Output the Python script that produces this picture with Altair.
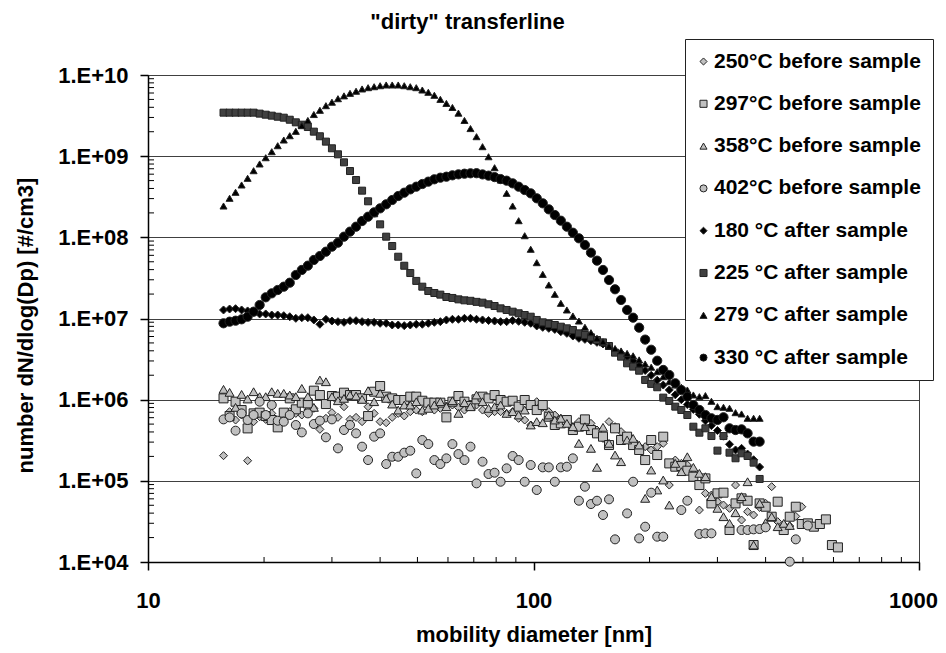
import altair as alt
import pandas as pd

FONT = "Liberation Sans, Arial, Helvetica, sans-serif"

DIAMETERS = [15.70, 16.28, 16.87, 17.49, 18.13, 18.79, 19.48, 20.20, 20.94, 21.70,
             22.50, 23.32, 24.18, 25.06, 25.98, 26.93, 27.92, 28.94, 30.00, 31.10,
             32.24, 33.42, 34.65, 35.92, 37.23, 38.60, 40.01, 41.48, 43.00, 44.57,
             46.21, 47.90, 49.65, 51.47, 53.35, 55.31, 57.33, 59.43, 61.61, 63.87,
             66.21, 68.63, 71.15, 73.75, 76.45, 79.26, 82.16, 85.17, 88.29, 91.52,
             94.88, 98.35, 101.96, 105.69, 109.56, 113.58, 117.74, 122.05, 126.52, 131.16,
             135.96, 140.94, 146.11, 151.46, 157.00, 162.75, 168.72, 174.90, 181.31, 187.95,
             194.84, 201.98, 209.38, 217.05, 225.00, 233.24, 241.79, 250.65, 259.83, 269.35,
             279.22, 289.45, 300.05, 311.05, 322.44, 334.26, 346.50, 359.20, 372.36, 386.00,
             400.14, 414.80, 430.00, 445.75, 462.08, 479.01, 496.56, 514.75, 533.61, 553.16,
             573.43, 594.44, 616.21]

SERIES = ["250°C before sample", "297°C before sample", "358°C before sample",
          "402°C before sample", "180 °C after sample", "225 °C after sample",
          "279 °C after sample", "330 °C after sample"]

# values given as decade exponents (log10 of dN/dlogDp)
LOG_250_BEFORE = [5.310, 5.852, 5.749, 5.811, 5.248, 5.729, 5.790, 5.757, 5.831, 5.667,
                  5.782, 5.852, 5.831, 5.811, 5.872, 5.893, 5.634, 5.770, 5.840, 5.782,
                  5.913, 5.757, 5.782, 5.729, 5.913, 5.831, 5.729, 5.716, 5.782, 5.831,
                  5.799, 5.852, 5.872, 5.852, 5.934, 5.872, 5.893, 5.922, 5.934, 5.905,
                  5.872, 5.922, 5.934, 5.872, 5.831, 5.852, 5.852, 5.831, 5.852, 5.770,
                  5.749, 5.688, 5.975, 5.905, 5.852, 5.811, 5.770, 5.729, 5.667, 5.729,
                  5.688, 5.708, 5.626, 5.523, 5.729, 5.667, 5.606, 5.544, 5.482, 5.421,
                  5.421, 5.380, 5.421, 5.462, 4.948, 5.256, 5.215, 5.195, 5.092, 4.640,
                  4.846, 4.825, 4.743, 4.702, 4.661, 4.948, 4.517, 4.620, 4.579, 4.673,
                  4.722, 4.928, 4.497, 4.456, 4.443, 4.562, 4.681]

LOG_297_BEFORE = [6.016, 5.798, 5.975, 5.872, 5.646, 5.831, 5.840, 5.798, 5.749, 5.659,
                  5.840, 6.016, 5.881, 5.963, 5.954, 6.111, 6.057, 5.946, 6.045, 6.037,
                  6.086, 6.057, 6.057, 6.016, 5.798, 6.098, 6.168, 6.037, 6.016, 5.996,
                  5.996, 6.037, 6.037, 5.987, 5.963, 5.963, 5.963, 5.782, 5.975, 6.045,
                  5.975, 5.922, 6.004, 6.037, 6.016, 6.057, 5.996, 5.975, 5.987, 5.914,
                  5.996, 5.934, 5.872, 5.934, 5.790, 5.688, 5.708, 5.749, 5.626, 5.667,
                  5.757, 5.626, 5.585, 5.544, 5.441, 5.647, 5.503, 5.544, 5.441, 5.380,
                  5.256, 5.503, 5.318, 5.544, 5.215, 5.174, 5.182, 5.125, 5.051, 4.948,
                  5.030, 4.722, 4.846, 4.854, 4.394, 4.722, 4.784, 4.755, 4.209, 4.722,
                  4.681, 4.558, 4.743, 4.394, 4.558, 4.681, 4.468, 4.476, 4.435, 4.468,
                  4.525, 4.209, 4.180]

LOG_358_BEFORE = [6.127, 6.090, 5.905, 6.065, 6.008, 6.098, 6.037, 6.037, 6.098, 6.078,
                  6.078, 6.057, 6.037, 6.139, 6.037, 5.905, 6.242, 6.221, 6.037, 5.987,
                  6.016, 6.057, 6.045, 6.004, 6.111, 5.975, 6.078, 6.016, 5.946, 5.872,
                  5.934, 5.934, 5.975, 5.872, 5.893, 5.934, 5.975, 5.913, 5.987, 5.831,
                  5.963, 5.913, 6.057, 5.975, 5.893, 5.913, 5.934, 5.831, 5.852, 5.811,
                  5.872, 5.688, 5.729, 5.716, 5.811, 5.749, 5.770, 5.708, 5.667, 5.462,
                  5.667, 5.400, 5.166, 5.659, 5.462, 5.318, 5.236, 5.503, 5.523, 5.441,
                  4.784, 5.133, 4.887, 5.010, 4.702, 5.215, 5.113, 5.297, 5.166, 5.092,
                  5.051, 4.805, 4.661, 4.558, 4.476, 4.607, 4.805, 4.989, 4.209, 4.722,
                  4.484, 4.558, 4.435, 4.476, 4.450]

LOG_402_BEFORE = [5.757, 5.782, 5.618, 5.831, 5.749, 5.811, 5.975, 5.811, 5.934, 5.741,
                  5.729, 5.811, 5.688, 5.597, 5.831, 5.700, 5.741, 5.536, 5.757, 5.400,
                  5.626, 5.688, 5.585, 5.421, 5.256, 5.544, 5.585, 5.207, 5.297, 5.297,
                  5.347, 5.371, 5.092, 5.503, 5.453, 5.256, 5.207, 5.277, 5.453, 5.330,
                  5.256, 5.421, 4.969, 5.236, 5.084, 5.100, 4.989, 5.154, 5.306, 5.256,
                  4.989, 5.195, 4.887, 5.166, 5.166, 4.989, 5.166, 5.174, 5.277, 4.755,
                  4.928, 4.714, 4.755, 4.579, 4.772, 4.279, None, 4.599, 4.989, 4.291,
                  4.435, 4.854, 4.312, 4.312, None, None, 4.640, 4.755, None, 4.345,
                  4.353, 4.353, None, None, None, None, 4.394, 4.394, 4.402, 4.406,
                  4.427, None, None, None, 4.004, 4.279, None, 4.450]

LOG_180_AFTER = [7.105, 7.117, 7.121, 7.105, 7.093, 7.076, 7.056, 7.056, 7.043, 7.043,
                 7.035, 7.022, 7.002, 7.010, 7.010, 6.982, 6.929, 6.990, 6.969, 6.961,
                 6.953, 6.973, 6.973, 6.961, 6.953, 6.953, 6.941, 6.941, 6.920, 6.920,
                 6.912, 6.920, 6.929, 6.929, 6.941, 6.953, 6.961, 6.982, 6.990, 6.990,
                 7.002, 7.002, 6.990, 6.982, 6.975, 6.969, 6.961, 6.961, 6.975, 6.965,
                 6.953, 6.941, 6.908, 6.891, 6.879, 6.866, 6.838, 6.817, 6.784, 6.756,
                 6.743, 6.727, 6.706, 6.686, 6.661, 6.600, 6.570, 6.530, 6.480, 6.420,
                 6.360, 6.300, 6.240, 6.180, 6.120, 6.060, 6.000, 5.940, 5.880, 5.820,
                 5.740, 5.680, 5.620, 5.550, 5.450, 5.380, 5.400, 5.330, 5.260, 5.170]

LOG_225_AFTER = [9.536, 9.536, 9.536, 9.536, 9.536, 9.536, 9.524, 9.511, 9.499, 9.486,
                 9.474, 9.449, 9.417, 9.388, 9.359, 9.302, 9.245, 9.179, 9.097, 9.023,
                 8.924, 8.817, 8.706, 8.575, 8.444, 8.296, 8.160, 8.008, 7.893, 7.761,
                 7.650, 7.560, 7.463, 7.392, 7.339, 7.314, 7.294, 7.265, 7.253, 7.236,
                 7.224, 7.218, 7.205, 7.195, 7.175, 7.154, 7.125, 7.105, 7.084, 7.064,
                 7.043, 7.022, 6.982, 6.953, 6.932, 6.920, 6.899, 6.879, 6.858, 6.817,
                 6.797, 6.768, 6.735, 6.706, 6.661, 6.579, 6.530, 6.448, 6.407, 6.357,
                 6.243, 6.194, 6.153, 6.025, 5.984, 5.914, 5.873, 5.811, 5.667, 5.593,
                 5.647, 5.552, 5.372, 5.552, 5.347, 5.278, 5.339, 5.306, 5.224, 5.023]

LOG_279_AFTER = [8.386, 8.481, 8.555, 8.645, 8.727, 8.821, 8.904, 8.981, 9.055, 9.129,
                 9.199, 9.252, 9.306, 9.376, 9.440, 9.513, 9.565, 9.622, 9.665, 9.708,
                 9.743, 9.774, 9.800, 9.828, 9.844, 9.856, 9.868, 9.877, 9.877, 9.877,
                 9.868, 9.856, 9.844, 9.815, 9.787, 9.750, 9.700, 9.650, 9.600, 9.530,
                 9.440, 9.340, 9.240, 9.117, 8.993, 8.858, 8.706, 8.542, 8.386, 8.205,
                 8.020, 7.853, 7.688, 7.544, 7.413, 7.298, 7.187, 7.105, 7.031, 6.969,
                 6.892, 6.825, 6.756, 6.714, 6.660, 6.630, 6.600, 6.570, 6.540, 6.490,
                 6.440, 6.400, 6.345, 6.283, 6.222, 6.181, 6.153, 6.119, 6.058, 6.037,
                 6.050, 5.980, 5.914, 5.906, 5.894, 5.840, 5.824, 5.771, 5.771, 5.771]

LOG_330_AFTER = [6.941, 6.961, 6.973, 6.990, 7.022, 7.084, 7.166, 7.261, 7.310, 7.351,
                 7.392, 7.441, 7.536, 7.598, 7.651, 7.721, 7.770, 7.823, 7.885, 7.934,
                 8.008, 8.070, 8.131, 8.201, 8.254, 8.308, 8.357, 8.407, 8.460, 8.509,
                 8.550, 8.591, 8.624, 8.657, 8.686, 8.715, 8.735, 8.747, 8.764, 8.776,
                 8.784, 8.789, 8.790, 8.775, 8.760, 8.742, 8.718, 8.698, 8.665, 8.624,
                 8.583, 8.542, 8.481, 8.419, 8.345, 8.275, 8.205, 8.131, 8.057, 7.988,
                 7.906, 7.811, 7.713, 7.598, 7.474, 7.360, 7.228, 7.105, 7.010, 6.887,
                 6.740, 6.615, 6.480, 6.366, 6.304, 6.202, 6.119, 6.037, 5.934, 5.873,
                 5.811, 5.771, 5.750, 5.783, 5.647, 5.626, 5.634, 5.585, 5.483, 5.483]

SERIES_VALUES = [LOG_250_BEFORE, LOG_297_BEFORE, LOG_358_BEFORE, LOG_402_BEFORE,
                 LOG_180_AFTER, LOG_225_AFTER, LOG_279_AFTER, LOG_330_AFTER]

X_TICKS = [10, 100, 1000]
Y_TICKS = [1e4, 1e5, 1e6, 1e7, 1e8, 1e9, 1e10]
MINOR_X = [20, 30, 40, 50, 60, 70, 80, 90, 200, 300, 400, 500, 600, 700, 800, 900]
MINOR_Y = [2e4, 3e4, 4e4, 5e4, 6e4, 7e4, 8e4, 9e4,
           2e5, 3e5, 4e5, 5e5, 6e5, 7e5, 8e5, 9e5,
           2e6, 3e6, 4e6, 5e6, 6e6, 7e6, 8e6, 9e6,
           2e7, 3e7, 4e7, 5e7, 6e7, 7e7, 8e7, 9e7,
           2e8, 3e8, 4e8, 5e8, 6e8, 7e8, 8e8, 9e8,
           2e9, 3e9, 4e9, 5e9, 6e9, 7e9, 8e9, 9e9]

# styles
FILLS = ["#c0c0c0", "#c0c0c0", "#c0c0c0", "#c0c0c0", "#000000", "#404040", "#000000", "#000000"]
SHAPES = ["diamond", "square", "triangle-up", "circle", "diamond", "square", "triangle-up", "circle"]
SIZES = [64, 81, 81, 81, 64, 49, 49, 85]

rows = []
for name, vals in zip(SERIES, SERIES_VALUES):
    for d, v in zip(DIAMETERS, vals):
        if v is not None:
            rows.append({"series": name, "d": d, "n": 10 ** v})
df = pd.DataFrame(rows)

W, H = 771, 487

xscale = alt.Scale(type="log", domain=[10, 1000], nice=False)
yscale = alt.Scale(type="log", domain=[1e4, 1e10], nice=False)

x_axis = alt.Axis(values=X_TICKS, format="d", title="mobility diameter [nm]", grid=False,
                  tickSize=8, tickWidth=1.5, tickColor="black", domainColor="black",
                  domainWidth=1.5, labelFont=FONT, labelFontSize=22, labelFontWeight="bold",
                  labelColor="black", labelPadding=20, labelFlush=False,
                  labelOffset={"condition": {"test": "datum.value >= 1000", "value": -6}, "value": 0},
                  titleFont=FONT, titleFontSize=22, titleFontWeight="bold", titleColor="black",
                  titleX=W / 2, titleY=79, titleBaseline="alphabetic", titleAlign="center")

y_axis = alt.Axis(values=Y_TICKS,
                  labelExpr="'1.E+' + (datum.value < 1e10 ? '0' : '') + format(round(log(datum.value) / LN10), 'd')",
                  title="number dN/dlog(Dp) [#/cm3]", grid=True, gridColor="#404040", gridWidth=1,
                  tickSize=8, tickWidth=1.5, tickColor="black", domainColor="black",
                  domainWidth=1.5, labelFont=FONT, labelFontSize=22, labelFontWeight="bold",
                  labelColor="black", labelPadding=12, labelFlush=False,
                  titleFont=FONT, titleFontSize=22, titleFontWeight="bold", titleColor="black",
                  titleAngle=270, titleX=-115.5, titleY=250, titleBaseline="alphabetic",
                  titleAlign="center")

leg = alt.Legend(orient="none", legendX=537, legendY=-36, direction="vertical",
                 fillColor="white", strokeColor="#222222", padding=12, rowPadding=20.3,
                 labelFont=FONT, labelFontSize=21, labelFontWeight="bold", labelColor="black",
                 labelLimit=400, labelOffset=0, symbolOffset=-4, symbolSize=50,
                 symbolStrokeWidth=1, symbolStrokeColor="#222222")

base = alt.Chart(df).encode(
    x=alt.X("d:Q", scale=xscale, axis=x_axis),
    y=alt.Y("n:Q", scale=yscale, axis=y_axis),
    color=alt.Color("series:N", scale=alt.Scale(domain=SERIES, range=FILLS), legend=leg, title=None),
    shape=alt.Shape("series:N", scale=alt.Scale(domain=SERIES, range=SHAPES), legend=leg, title=None),
)

layers = []
for name, sz in zip(SERIES, SIZES):
    layers.append(
        base.transform_filter(alt.datum.series == name).mark_point(
            filled=True, opacity=1, size=sz, stroke="#222222", strokeWidth=1)
    )

minor_x = alt.Chart(pd.DataFrame({"d": MINOR_X})).mark_rule(color="black", strokeWidth=1).encode(
    x=alt.X("d:Q", scale=xscale, axis=x_axis),
    y=alt.value(H),
    y2=alt.value(H - 5),
)
minor_y = alt.Chart(pd.DataFrame({"n": MINOR_Y})).mark_rule(color="black", strokeWidth=1).encode(
    y=alt.Y("n:Q", scale=yscale, axis=y_axis),
    x=alt.value(0),
    x2=alt.value(6),
)

chart = alt.layer(*layers, minor_x, minor_y).properties(
    width=W, height=H,
    padding={"left": 140, "top": 67, "right": 19, "bottom": 88},
    autosize=alt.AutoSizeParams(type="none"),
    title=alt.TitleParams(text='"dirty" transferline', font=FONT, fontSize=22,
                          fontWeight="bold", color="black", anchor="middle", frame="group",
                          dx=-66, dy=24, offset=12, baseline="alphabetic"),
).configure_view(stroke="#404040", strokeWidth=1)

chart.save("out.html", embed_options={"renderer": "svg", "actions": False})
